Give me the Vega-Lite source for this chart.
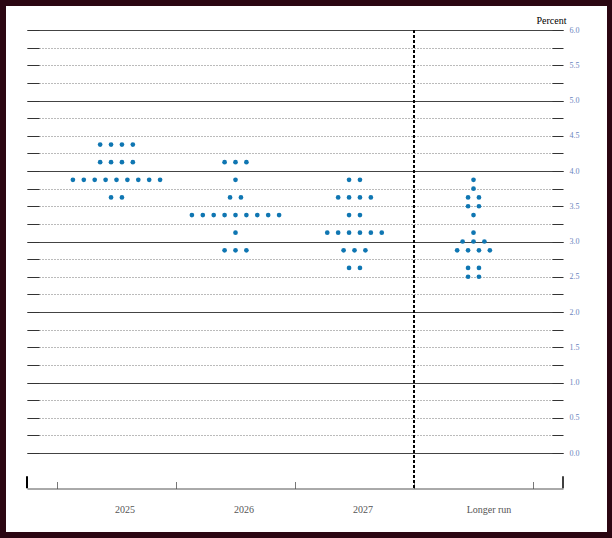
{
  "$schema": "https://vega.github.io/schema/vega-lite/v6.json",
  "width": 601,
  "height": 526,
  "autosize": "none",
  "padding": {"left": 6, "top": 6, "right": 5, "bottom": 6},
  "background": "#2b0612",
  "config": {
    "font": "Liberation Serif",
    "view": {"fill": "white", "stroke": null}
  },
  "data": {
    "values": [
      {"year": "2025", "rate": 4.375}, {"year": "2025", "rate": 4.375}, {"year": "2025", "rate": 4.375}, {"year": "2025", "rate": 4.375},
      {"year": "2025", "rate": 4.125}, {"year": "2025", "rate": 4.125}, {"year": "2025", "rate": 4.125}, {"year": "2025", "rate": 4.125},
      {"year": "2025", "rate": 3.875}, {"year": "2025", "rate": 3.875}, {"year": "2025", "rate": 3.875}, {"year": "2025", "rate": 3.875},
      {"year": "2025", "rate": 3.875}, {"year": "2025", "rate": 3.875}, {"year": "2025", "rate": 3.875}, {"year": "2025", "rate": 3.875},
      {"year": "2025", "rate": 3.875},
      {"year": "2025", "rate": 3.625}, {"year": "2025", "rate": 3.625},
      {"year": "2026", "rate": 4.125}, {"year": "2026", "rate": 4.125}, {"year": "2026", "rate": 4.125},
      {"year": "2026", "rate": 3.875},
      {"year": "2026", "rate": 3.625}, {"year": "2026", "rate": 3.625},
      {"year": "2026", "rate": 3.375}, {"year": "2026", "rate": 3.375}, {"year": "2026", "rate": 3.375}, {"year": "2026", "rate": 3.375},
      {"year": "2026", "rate": 3.375}, {"year": "2026", "rate": 3.375}, {"year": "2026", "rate": 3.375}, {"year": "2026", "rate": 3.375},
      {"year": "2026", "rate": 3.375},
      {"year": "2026", "rate": 3.125},
      {"year": "2026", "rate": 2.875}, {"year": "2026", "rate": 2.875}, {"year": "2026", "rate": 2.875},
      {"year": "2027", "rate": 3.875}, {"year": "2027", "rate": 3.875},
      {"year": "2027", "rate": 3.625}, {"year": "2027", "rate": 3.625}, {"year": "2027", "rate": 3.625}, {"year": "2027", "rate": 3.625},
      {"year": "2027", "rate": 3.375}, {"year": "2027", "rate": 3.375},
      {"year": "2027", "rate": 3.125}, {"year": "2027", "rate": 3.125}, {"year": "2027", "rate": 3.125},
      {"year": "2027", "rate": 3.125}, {"year": "2027", "rate": 3.125}, {"year": "2027", "rate": 3.125},
      {"year": "2027", "rate": 2.875}, {"year": "2027", "rate": 2.875}, {"year": "2027", "rate": 2.875},
      {"year": "2027", "rate": 2.625}, {"year": "2027", "rate": 2.625},
      {"year": "Longer run", "rate": 3.875},
      {"year": "Longer run", "rate": 3.75},
      {"year": "Longer run", "rate": 3.625}, {"year": "Longer run", "rate": 3.625},
      {"year": "Longer run", "rate": 3.5}, {"year": "Longer run", "rate": 3.5},
      {"year": "Longer run", "rate": 3.375},
      {"year": "Longer run", "rate": 3.125},
      {"year": "Longer run", "rate": 3.0}, {"year": "Longer run", "rate": 3.0}, {"year": "Longer run", "rate": 3.0},
      {"year": "Longer run", "rate": 2.875}, {"year": "Longer run", "rate": 2.875}, {"year": "Longer run", "rate": 2.875}, {"year": "Longer run", "rate": 2.875},
      {"year": "Longer run", "rate": 2.625}, {"year": "Longer run", "rate": 2.625},
      {"year": "Longer run", "rate": 2.5}, {"year": "Longer run", "rate": 2.5}
    ]
  },
  "transform": [
    {"window": [{"op": "row_number", "as": "slot"}, {"op": "count", "as": "n"}], "groupby": ["year", "rate"], "frame": [null, null]},
    {"calculate": "datum.slot - (datum.n + 1) / 2", "as": "offset"}
  ],
  "encoding": {
    "x": {
      "field": "year",
      "type": "nominal",
      "scale": {"domain": ["2025", "2026", "2027", "Longer run"], "range": [21, 557], "paddingInner": 0, "paddingOuter": 0.252},
      "axis": {
        "title": null,
        "orient": "bottom",
        "offset": -43.5,
        "tickBand": "extent",
        "tickSize": -7,
        "tickColor": "#777",
        "domainColor": "#555",
        "labelAngle": 0,
        "labelFontSize": 10,
        "labelColor": "#555",
        "labelPadding": 23,
        "labelOffset": {"condition": {"test": "datum.value === 'Longer run'", "value": 15}, "value": 8}
      }
    },
    "y": {
      "field": "rate",
      "type": "quantitative",
      "scale": {"domain": [-0.5, 6], "range": [482.25, 24], "nice": false, "zero": false}
    }
  },
  "layer": [
    {
      "mark": {"type": "circle", "opacity": 0},
      "encoding": {
        "y": {
          "field": "rate",
          "type": "quantitative",
          "axis": {
            "orient": "left",
            "title": null,
            "offset": -21,
            "grid": true,
            "zindex": 0,
            "domain": false,
            "labels": false,
            "tickSize": -12,
            "tickColor": "#333",
            "values": [0, 0.25, 0.5, 0.75, 1, 1.25, 1.5, 1.75, 2, 2.25, 2.5, 2.75, 3, 3.25, 3.5, 3.75, 4, 4.25, 4.5, 4.75, 5, 5.25, 5.5, 5.75, 6],
            "gridDash": {"condition": {"test": "datum.value % 1 === 0", "value": []}, "value": [1, 2]},
            "gridColor": {"condition": {"test": "datum.value % 1 === 0", "value": "#444"}, "value": "#777"},
            "gridOpacity": 1
          }
        }
      }
    },
    {
      "mark": {"type": "circle", "color": "#0f76b2", "opacity": 1, "size": 22},
      "encoding": {
        "xOffset": {"field": "offset", "type": "quantitative", "scale": {"domain": [-5.46, 5.46]}},
        "y": {
          "field": "rate",
          "type": "quantitative",
          "axis": {
            "orient": "right",
            "title": "Percent",
            "titleAngle": 0,
            "titleAlign": "right",
            "titleBaseline": "alphabetic",
            "titleX": 3,
            "titleY": 17.5,
            "titleFontSize": 10,
            "titleFontWeight": "normal",
            "titleColor": "#000",
            "offset": -44,
            "grid": false,
            "domain": false,
            "tickSize": -11,
            "tickColor": "#333",
            "labelPadding": 17,
            "labelFontSize": 8,
            "labelColor": "#6a84bd",
            "values": [0, 0.25, 0.5, 0.75, 1, 1.25, 1.5, 1.75, 2, 2.25, 2.5, 2.75, 3, 3.25, 3.5, 3.75, 4, 4.25, 4.5, 4.75, 5, 5.25, 5.5, 5.75, 6],
            "labelExpr": "datum.value % 0.5 === 0 ? format(datum.value, '.1f') : ''"
          }
        }
      }
    },
    {
      "data": {"values": [{"year": "Longer run", "top": 6, "bottom": -0.5}]},
      "mark": {"type": "rule", "color": "#000", "strokeWidth": 2, "strokeDash": [3, 2]},
      "encoding": {
        "x": {"field": "year", "type": "nominal", "bandPosition": 0},
        "y": {"field": "top", "type": "quantitative", "axis": null},
        "y2": {"field": "bottom"}
      }
    },
    {
      "data": {"values": [{"year": "2025", "top": -0.33, "bottom": -0.5}]},
      "mark": {"type": "rule", "color": "#000", "strokeWidth": 2},
      "encoding": {
        "x": {"field": "year", "type": "nominal", "bandPosition": -0.252},
        "y": {"field": "top", "type": "quantitative", "axis": null},
        "y2": {"field": "bottom"}
      }
    },
    {
      "data": {"values": [{"year": "Longer run", "top": -0.33, "bottom": -0.5}]},
      "mark": {"type": "rule", "color": "#000", "strokeWidth": 1.5},
      "encoding": {
        "x": {"field": "year", "type": "nominal", "bandPosition": 1.252},
        "y": {"field": "top", "type": "quantitative", "axis": null},
        "y2": {"field": "bottom"}
      }
    }
  ]
}
